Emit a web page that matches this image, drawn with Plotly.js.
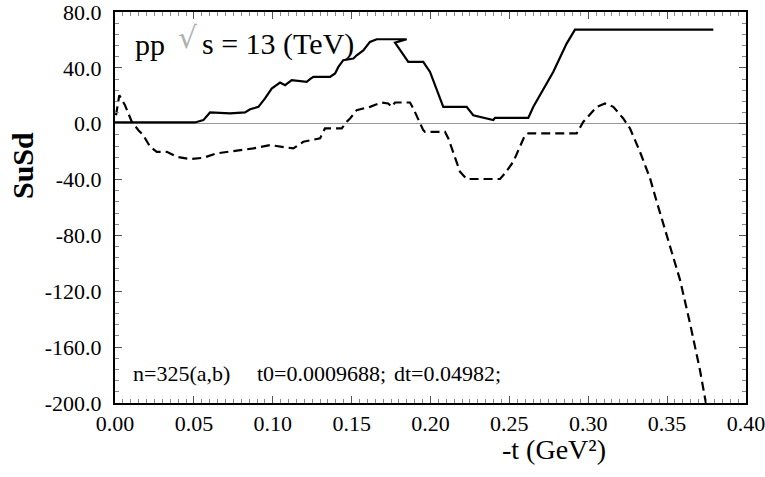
<!DOCTYPE html>
<html>
<head>
<meta charset="utf-8">
<script src="https://cdn.plot.ly/plotly-3.0.1.min.js"></script>
<style>
html,body{margin:0;padding:0;background:#fff;}
#chart{width:765px;height:477px;}
</style>
</head>
<body>
<div id="chart"></div>
<script>
// Solid curve
var solidX = [0, 0.0507, 0.056, 0.0602, 0.0729, 0.0824, 0.0856, 0.0909, 0.0951, 0.0993, 0.1046, 0.1078, 0.112, 0.1215, 0.1236, 0.1257, 0.1363, 0.1395, 0.1416, 0.1447, 0.1511, 0.1532, 0.1574, 0.1616, 0.1659, 0.1849, 0.1775, 0.1859, 0.1954, 0.1997, 0.2081, 0.2229, 0.2271, 0.2398, 0.2409, 0.262, 0.2652, 0.2694, 0.2778, 0.2863, 0.2916, 0.3793];
var solidY = [0.9, 0.9, 2.6, 8.1, 7.4, 8.1, 10.4, 12.1, 18.1, 25.2, 29.5, 27.6, 31.2, 30, 31.9, 33.5, 33.5, 36, 40.7, 45.5, 46.7, 49, 52.5, 58.6, 60.5, 60.5, 58.1, 44.3, 44.3, 37.1, 12.1, 12.1, 6.1, 2.6, 4.2, 4.2, 12.1, 20.4, 37.1, 57.4, 67.4, 67.4];

// Dashed curve
var dashX = [0.0006, 0.0027, 0.0063, 0.0106, 0.0148, 0.0179, 0.0222, 0.0264, 0.0328, 0.0391, 0.0475, 0.056, 0.0645, 0.0729, 0.0813, 0.0877, 0.0983, 0.1067, 0.113, 0.1194, 0.1257, 0.13, 0.1331, 0.1437, 0.1469, 0.149, 0.1532, 0.1616, 0.1691, 0.1732, 0.1754, 0.1775, 0.187, 0.1891, 0.1954, 0.1965, 0.2092, 0.2113, 0.2187, 0.2229, 0.2441, 0.2472, 0.2525, 0.2599, 0.262, 0.2927, 0.2969, 0.3054, 0.3106, 0.3159, 0.3222, 0.3265, 0.3328, 0.3392, 0.3434, 0.3487, 0.3582, 0.3645, 0.3708, 0.3746];
var dashY = [6.1, 20.4, 13.3, 1.4, -4.6, -8.2, -16.5, -20.1, -20.1, -23.7, -25.3, -24.4, -21.2, -20.1, -18.9, -17.7, -15.3, -16.5, -17.7, -12.9, -11.7, -10.5, -3.4, -3.4, 1.4, 3.8, 9.7, 12.1, 15.2, 14.5, 12.1, 15.2, 15.2, 10.9, -4.6, -5.8, -5.8, -10.5, -34.4, -39.6, -39.6, -35.5, -27.2, -8.2, -6.9, -6.9, 1.4, 12.1, 14.5, 12.1, 3.8, -3.4, -20.1, -39.1, -55.8, -76, -111.8, -142.8, -176.2, -200];

// Tick labels
var xTickVals = [0, 0.05, 0.10, 0.15, 0.20, 0.25, 0.30, 0.35, 0.40];
var xTickText = ['0.00', '0.05', '0.10', '0.15', '0.20', '0.25', '0.30', '0.35', '0.40'];
var yTickVals = [80, 40, 0, -40, -80, -120, -160, -200];
var yTickText = ['80.0', '40.0', '0.0', '-40.0', '-80.0', '-120.0', '-160.0', '-200.0'];

var serif = 'Liberation Serif, Times New Roman, serif';

var traces = [
  {x: solidX, y: solidY, mode: 'lines', type: 'scatter',
   line: {color: '#000', width: 2.2}, hoverinfo: 'skip'},
  {x: dashX, y: dashY, mode: 'lines', type: 'scatter',
   line: {color: '#000', width: 2.2, dash: '9px,5px'}, hoverinfo: 'skip'}
];

var layout = {
  width: 765, height: 477,
  margin: {l: 115, r: 19, t: 12, b: 74, pad: 0},
  paper_bgcolor: '#fff', plot_bgcolor: '#fff',
  showlegend: false,
  font: {family: serif, color: '#000'},
  xaxis: {
    range: [-0.00003, 0.40003], tickmode: 'array', tickvals: xTickVals, ticktext: xTickText,
    showline: true, linecolor: '#000', linewidth: 2, mirror: 'ticks',
    ticks: 'inside', ticklen: 7, tickwidth: 1, tickcolor: '#555',
    tickfont: {family: serif, size: 22, color: '#000'},
    ticklabelstandoff: 0, ticklabeloverflow: 'allow',
    minor: {tick0: 0, dtick: 0.005, ticks: 'inside', ticklen: 4, tickwidth: 1, tickcolor: '#888', showgrid: false},
    showgrid: false, zeroline: false
  },
  yaxis: {
    range: [-200.02, 80.02], tickmode: 'array', tickvals: yTickVals, ticktext: yTickText,
    showline: true, linecolor: '#000', linewidth: 2, mirror: 'ticks',
    ticks: 'inside', ticklen: 7, tickwidth: 1, tickcolor: '#555',
    tickfont: {family: serif, size: 22, color: '#000'},
    ticklabelstandoff: 7, ticklabeloverflow: 'allow',
    minor: {tick0: 0, dtick: 8, ticks: 'inside', ticklen: 4, tickwidth: 1, tickcolor: '#888', showgrid: false},
    showgrid: false, zeroline: true, zerolinecolor: '#999', zerolinewidth: 1.2
  },
  annotations: [
    {xref: 'paper', yref: 'paper', x: (133 - 115) / 631, y: 0.918, xanchor: 'left', yanchor: 'middle',
     text: 'pp', showarrow: false, font: {family: serif, size: 30, color: '#000'}},
    {xref: 'paper', yref: 'paper', x: (176 - 115) / 631, y: 0.935, xanchor: 'left', yanchor: 'middle',
     text: '√', showarrow: false, font: {family: 'DejaVu Sans', size: 30, color: '#b0b0b0'}},
    {xref: 'paper', yref: 'paper', x: (200 - 115) / 631, y: 0.918, xanchor: 'left', yanchor: 'middle',
     text: 's = 13 (TeV)', showarrow: false, font: {family: serif, size: 30, color: '#000'}},
    {xref: 'paper', yref: 'paper', x: (131 - 115) / 631, y: 0.0742, xanchor: 'left', yanchor: 'middle',
     text: 'n=325(a,b)', showarrow: false, font: {family: serif, size: 22, color: '#000'}},
    {xref: 'paper', yref: 'paper', x: (255 - 115) / 631, y: 0.0742, xanchor: 'left', yanchor: 'middle',
     text: 't0=0.0009688;', showarrow: false, font: {family: serif, size: 22, color: '#000'}},
    {xref: 'paper', yref: 'paper', x: (392 - 115) / 631, y: 0.0742, xanchor: 'left', yanchor: 'middle',
     text: 'dt=0.04982;', showarrow: false, font: {family: serif, size: 22, color: '#000'}},
    {xref: 'paper', yref: 'paper', x: (22 - 115) / 631, y: (403 - 166) / 391, xanchor: 'center', yanchor: 'middle',
     text: '<b>SuSd</b>', textangle: -90, showarrow: false, font: {family: serif, size: 30, color: '#000'}},
    {xref: 'paper', yref: 'paper', x: (554 - 115) / 631, y: (403 - 449) / 391, xanchor: 'center', yanchor: 'middle',
     text: '-t (GeV²)', showarrow: false, font: {family: serif, size: 28, color: '#000'}}
  ]
};

Plotly.newPlot('chart', traces, layout, {staticPlot: true, displayModeBar: false});
</script>
</body>
</html>
